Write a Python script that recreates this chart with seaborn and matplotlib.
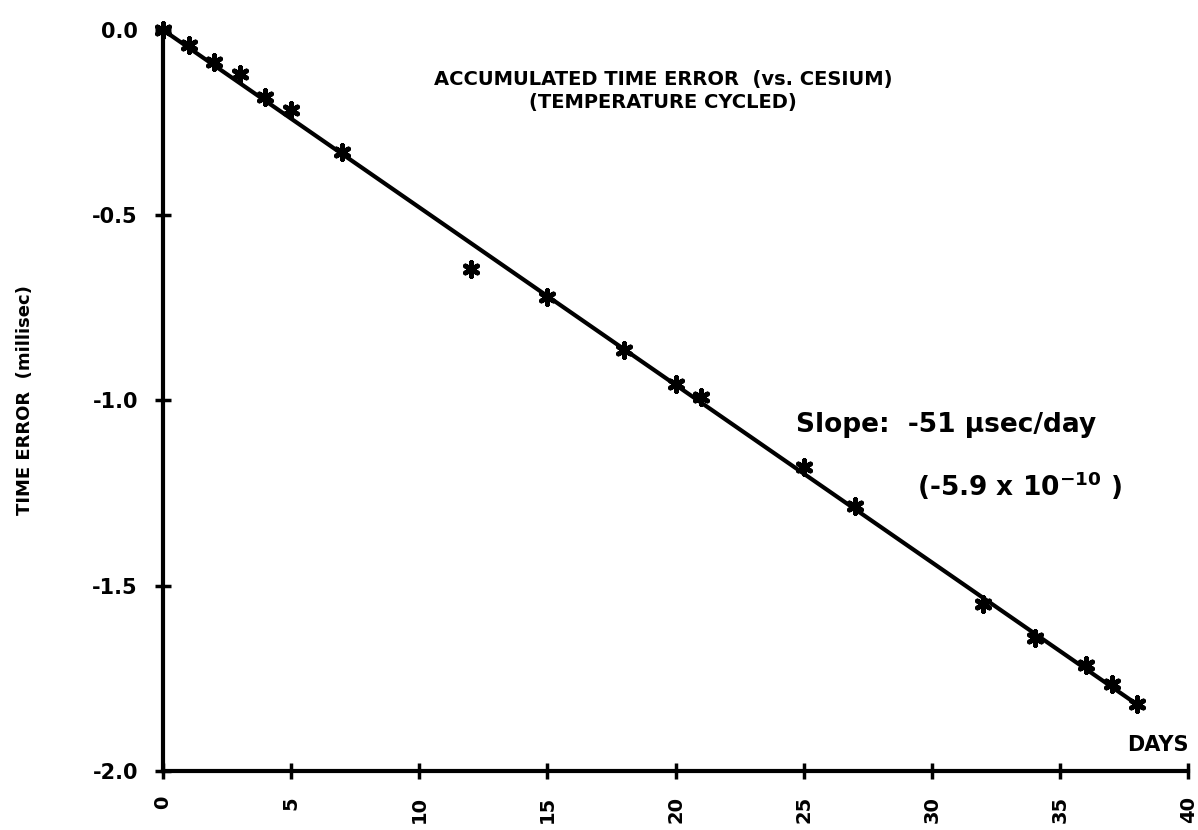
import matplotlib
matplotlib.use("Agg")
import matplotlib.pyplot as plt
import seaborn as sns
import pandas as pd

# measured points (days, time error in millisec)
days = [0, 1, 2, 3, 4, 5, 7, 12, 15, 18, 20, 21, 25, 27, 32, 34, 36, 37, 38]
err = [0.0, -0.04, -0.086, -0.12, -0.18, -0.215, -0.33, -0.645, -0.72, -0.865,
       -0.955, -0.99, -1.18, -1.285, -1.55, -1.64, -1.715, -1.765, -1.82]

# fitted line end points
fit_days = [0, 38.2]
fit_err = [0.0, -1.83]

xticks = [0, 5, 10, 15, 20, 25, 30, 35, 40]
yticks = [0.0, -0.5, -1.0, -1.5, -2.0]

df = pd.DataFrame({'days': days, 'err': err})
fit = pd.DataFrame({'days': fit_days, 'err': fit_err})

sns.set_style("ticks", {'axes.edgecolor': 'black', 'text.color': 'black',
                        'xtick.color': 'black', 'ytick.color': 'black',
                        'axes.labelcolor': 'black'})
plt.rcParams['font.family'] = ['DejaVu Sans']
plt.rcParams['font.weight'] = 'bold'

fig = plt.figure(figsize=(11.98, 8.30), dpi=100)
ax = fig.add_axes([0.136, 0.071, 0.856, 0.893])

sns.lineplot(data=fit, x='days', y='err', color='black', linewidth=3, ax=ax)
sns.scatterplot(data=df, x='days', y='err', marker=(6, 2, 0), s=100,
                color='black', linewidth=3.5, ax=ax, clip_on=False, zorder=5)

ax.set_xlim(0, 40)
ax.set_ylim(-2.0, 0.0)
ax.set_xticks(xticks)
ax.set_xticklabels([str(t) for t in xticks], rotation=90, fontsize=14, fontweight='bold')
ax.set_yticks(yticks)
ax.set_yticklabels(['0.0', '-0.5', '-1.0', '-1.5', '-2.0'], fontsize=15, fontweight='bold')
ax.tick_params(direction='inout', length=12, width=2.5, pad=12)
ax.tick_params(axis='x', pad=12)

sns.despine(ax=ax)
for side in ['left', 'bottom']:
    ax.spines[side].set_linewidth(3)

ax.set_xlabel('')
ax.set_ylabel('TIME ERROR  (millisec)', fontsize=13, fontweight='bold', labelpad=42)

ax.text(19.5, -0.165, 'ACCUMULATED TIME ERROR  (vs. CESIUM)\n(TEMPERATURE CYCLED)',
        ha='center', va='center', fontsize=14, fontweight='bold', linespacing=1.3)
ax.text(24.7, -1.065, 'Slope:  -51 \u00b5sec/day', fontsize=19, fontweight='bold',
        ha='left', va='center')
ax.text(29.4, -1.23, '(-5.9 x 10$^{-10}$ )', fontsize=19, fontweight='bold',
        ha='left', va='center')
ax.text(40, -1.93, 'DAYS', fontsize=15, fontweight='bold', ha='right', va='center')

fig.savefig('out.png', dpi=100)
